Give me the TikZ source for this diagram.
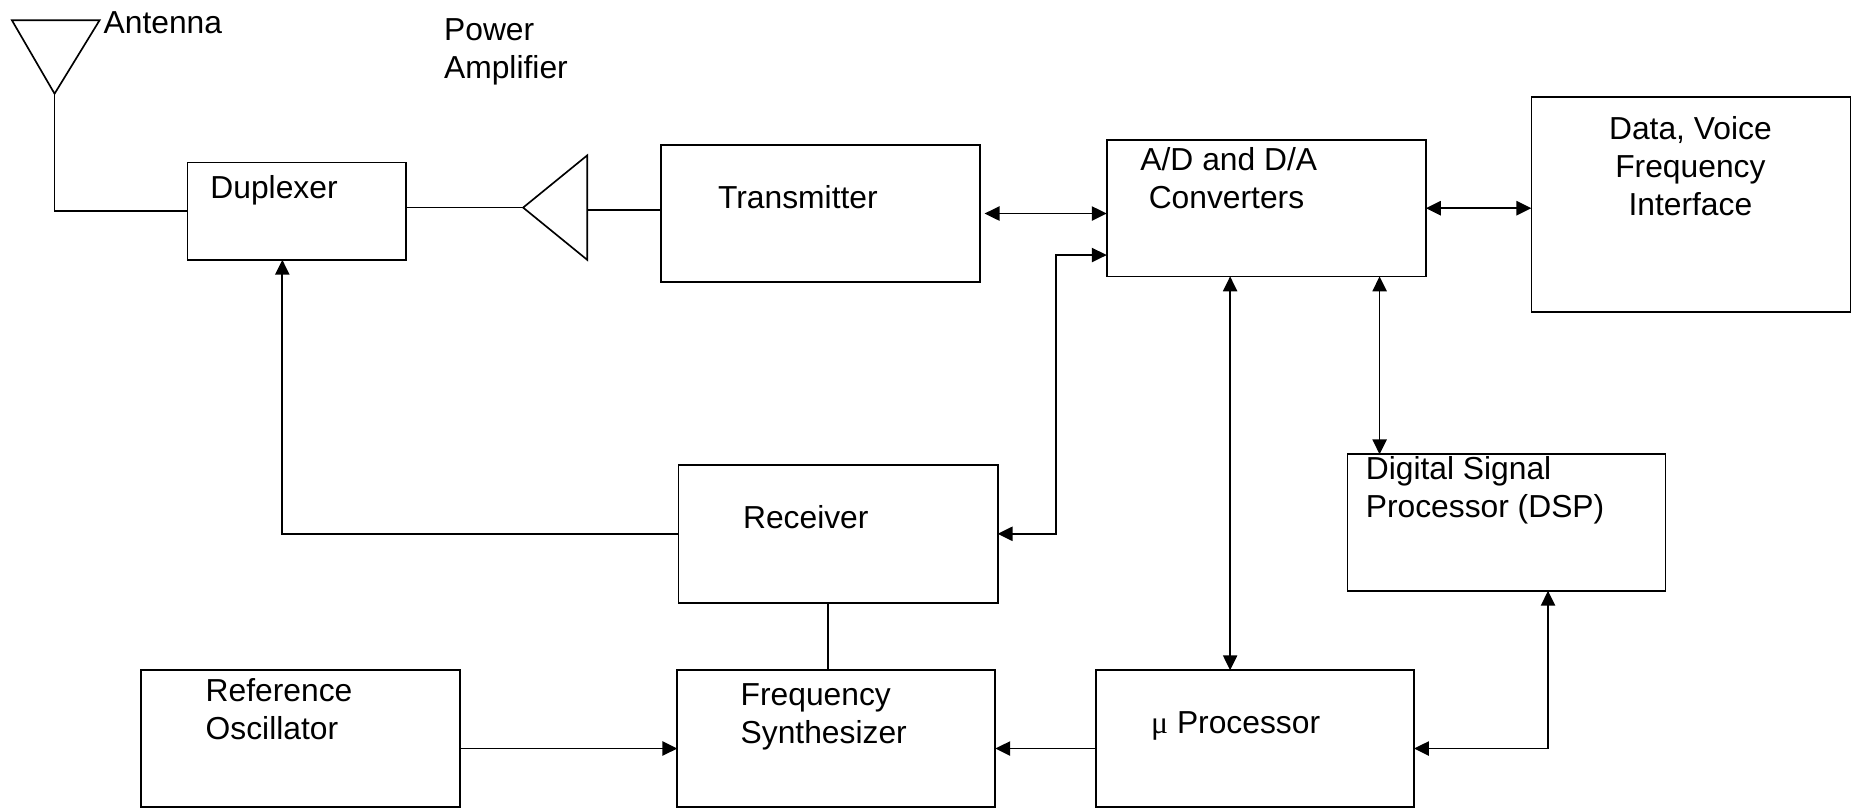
\documentclass[tikz,border=0pt]{standalone}
\usepackage{fontspec}
\setmainfont{Liberation Sans}
\newfontfamily\greekfont{Liberation Serif}
\usetikzlibrary{arrows.meta}
\tikzset{
  block/.style={draw, line width=0.75pt, inner sep=0pt, outer sep=0pt,
    anchor=north west, minimum width=134.5pt, minimum height=58pt},
  block text/.style={inner sep=0pt, anchor=west, align=left,
    font=\fontsize{13.4}{16}\selectfont},
  link/.style={line width=0.7pt, line join=miter},
  one way/.style={link, -{Triangle[length=6.3pt,width=6pt]}},
  two way/.style={link, {Triangle[length=6.3pt,width=6pt]}-{Triangle[length=6.3pt,width=6pt]}}
}

\begin{document}
\begin{tikzpicture}[x=0.5pt, y=-0.5pt]

  \useasboundingbox (0,0) rectangle (1568,681);

  % blocks
  \node[block, minimum width=92pt, minimum height=41pt] (dp) at (158,137) {};
  \node[block] (tx) at (557,122) {};
  \node[block, minimum height=57.5pt] (ad) at (933,118) {};
  \node[block, minimum height=90.5pt] (data) at (1291,82) {};
  \node[block, minimum width=134pt, minimum height=57.5pt] (dsp) at (1136,383) {};
  \node[block] (rx) at (572,392) {};
  \node[block, minimum height=57.5pt] (ro) at (119,565) {};
  \node[block, minimum width=134pt, minimum height=57.5pt] (fs) at (571,565) {};
  \node[block, minimum width=134pt, minimum height=57.5pt] (mp) at (924,565) {};

  % texts
  \node[block text] (ant-t) at (87,19) {Antenna};
  \node[block text] (pa-t) at (374,44) {Power\\Amplifier};
  \node[block text] (dp-t) at (177,160) {Duplexer};
  \node[block text] (tx-t) at (605,166) {Transmitter};
  \node[block text] (ad-t) at (961,150.5) {A/D and D/A\\\hspace{3.5pt}Converters};
  \node[block text, anchor=center, align=center] (data-t) at (1425,140) {Data, Voice\\Frequency\\Interface};
  \node[block text] (dsp-t) at (1151,413) {Digital Signal\\Processor (DSP)};
  \node[block text] (rx-t) at (626,436) {Receiver};
  \node[block text] (ro-t) at (173,597.5) {Reference\\Oscillator};
  \node[block text] (fs-t) at (624,604) {Frequency\\Synthesizer};
  \node[block text] (mp-t) at (970,612) {{\greekfont μ} Processor};

  % antenna and power amplifier
  \coordinate (ant) at (46,79);
  \draw[link] (10,17) -- (84,17) -- (ant) -- cycle;
  \draw[link] (ant) |- (dp.west);

  \coordinate (pa-tip) at (441,175);
  \coordinate (pa-back) at (495,177);
  \draw[link] (pa-tip) -- (495,131) -- (495,219) -- cycle;
  \draw[link] (dp.east |- pa-tip) -- (pa-tip);
  \draw[link] (pa-back) -- (pa-back -| tx.west);

  % connections
  \draw[two way, shorten <=2pt] (tx.east) -- (tx.east -| ad.west);
  \draw[two way] (ad.east) -- (ad.east -| data.west);

  \coordinate (ad-in) at ([yshift=9pt]ad.south west);
  \draw[two way] (rx.east) -| ([xshift=-21.5pt]ad-in) -- (ad-in);

  \draw[two way] ([xshift=-15.25pt]ad.south) -- ([xshift=-15.25pt]ad.south |- mp.north);
  \draw[two way] ([xshift=47.75pt]ad.south) -- ([xshift=47.75pt]ad.south |- dsp.north);
  \draw[two way] ([xshift=17.5pt]dsp.south) |- ([yshift=-4.25pt]mp.east);

  \draw[one way] ([yshift=-4.25pt]mp.west) -- ([yshift=-4.25pt]fs.east);
  \draw[one way] ([yshift=-4.25pt]ro.east) -- ([yshift=-4.25pt]fs.west);
  \draw[link] ([xshift=-4.25pt]rx.south) -- ([xshift=-4.25pt]rx.south |- fs.north);
  \draw[one way] (rx.west) -| ([xshift=-6pt]dp.south);

\end{tikzpicture}
\end{document}
